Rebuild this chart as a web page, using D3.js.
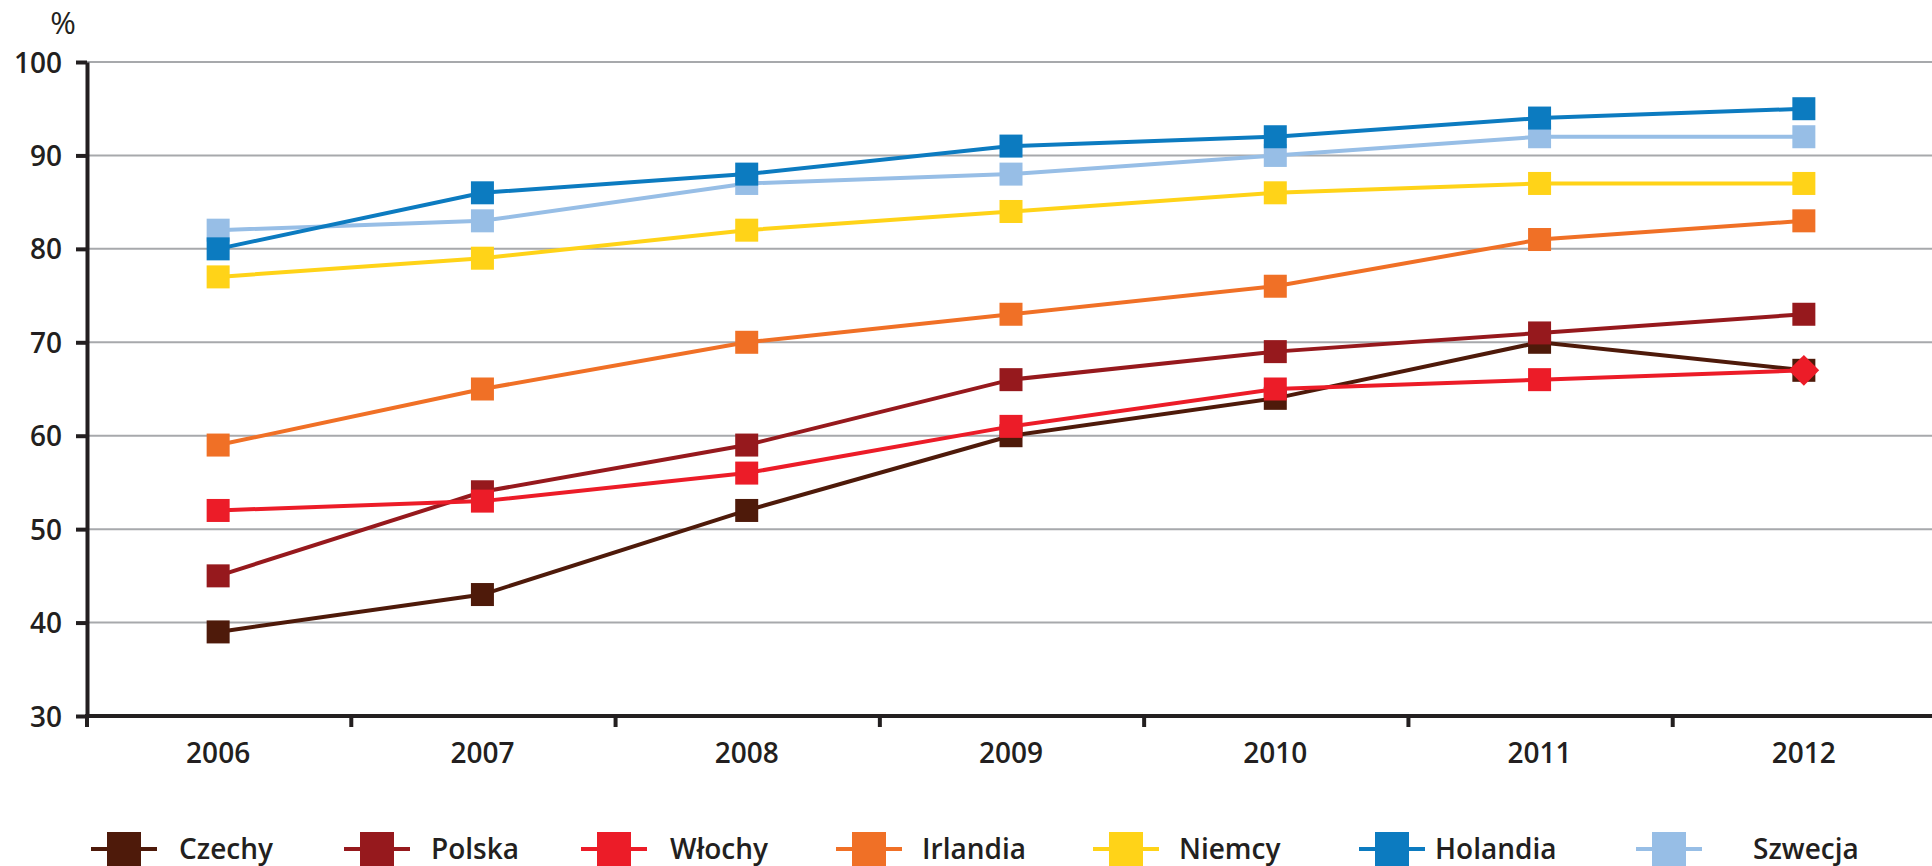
<!DOCTYPE html>
<html>
<head>
<meta charset="utf-8">
<script src="https://cdn.jsdelivr.net/npm/d3@7"></script>
<style>
  body { margin: 0; background: #fff; }
  svg { display: block; }
  text { font-family: "Open Sans", sans-serif; fill: #231f20; }
</style>
</head>
<body>
<div id="chart"></div>
<script>
const years = ["2006", "2007", "2008", "2009", "2010", "2011", "2012"];
const yTicks = [30, 40, 50, 60, 70, 80, 90, 100];

const czechy   = [39, 43, 52, 60, 64, 70, 67];
const polska   = [45, 54, 59, 66, 69, 71, 73];
const wlochy   = [52, 53, 56, 61, 65, 66, 67];
const irlandia = [59, 65, 70, 73, 76, 81, 83];
const niemcy   = [77, 79, 82, 84, 86, 87, 87];
const holandia = [80, 86, 88, 91, 92, 94, 95];
const szwecja  = [82, 83, 87, 88, 90, 92, 92];

const names = ["Czechy", "Polska", "Włochy", "Irlandia", "Niemcy", "Holandia", "Szwecja"];
const values = [czechy, polska, wlochy, irlandia, niemcy, holandia, szwecja];
const colors = ["#4e1a0a", "#96191d", "#ec1c28", "#f07026", "#ffd318", "#0c7bc0", "#97bee6"];
// series drawn in this order (dark blue sits on top of light blue)
const drawOrder = ["Czechy", "Polska", "Włochy", "Irlandia", "Niemcy", "Szwecja", "Holandia"];
// the 2012 Włochy point is a diamond in the original
const diamondPoint = { name: "Włochy", year: "2012" };

const W = 1932, H = 866;
const legendX = [124, 377, 614, 869, 1126, 1392, 1669];
const legendTextX = [179, 431, 670, 922, 1179, 1435, 1753];

const svg = d3.select("#chart").append("svg")
    .attr("width", W)
    .attr("height", H);

const x = d3.scaleBand()
    .domain(years)
    .range([86, 1936])
    .padding(0);
const xc = d => x(d) + x.bandwidth() / 2;

const y = d3.scaleLinear()
    .domain([30, 100])
    .range([716, 62]);

const color = d3.scaleOrdinal().domain(names).range(colors);

// gridlines
svg.append("g")
    .selectAll("line")
    .data(yTicks.filter(t => t > 30))
    .enter().append("line")
    .attr("x1", 86).attr("x2", W)
    .attr("y1", d => y(d)).attr("y2", d => y(d))
    .attr("stroke", "#a7a9ac")
    .attr("stroke-width", 2);

// y axis
const yAxis = svg.append("g")
    .attr("transform", "translate(87,0)")
    .call(d3.axisLeft(y).tickValues(yTicks).tickSize(11).tickSizeOuter(0).tickPadding(14));
yAxis.select(".domain").attr("stroke", "#231f20").attr("stroke-width", 4);
yAxis.selectAll(".tick line").attr("stroke", "#231f20").attr("stroke-width", 4);
yAxis.selectAll(".tick text")
    .attr("fill", "#231f20")
    .style("font-size", "28px")
    .style("font-weight", 600)
    .attr("dy", "0.36em");

svg.append("text")
    .attr("x", 63).attr("y", 34)
    .attr("text-anchor", "middle")
    .style("font-size", "31px")
    .text("%");

// x axis
const xAxis = svg.append("g");
xAxis.append("line")
    .attr("x1", 85).attr("x2", W)
    .attr("y1", y(30)).attr("y2", y(30))
    .attr("stroke", "#231f20")
    .attr("stroke-width", 4);
xAxis.selectAll(".xtick")
    .data(years)
    .enter().append("line")
    .attr("class", "xtick")
    .attr("x1", d => x(d) + 1).attr("x2", d => x(d) + 1)
    .attr("y1", y(30)).attr("y2", y(30) + 11)
    .attr("stroke", "#231f20")
    .attr("stroke-width", 4);
xAxis.selectAll(".xlabel")
    .data(years)
    .enter().append("text")
    .attr("class", "xlabel")
    .attr("x", d => xc(d))
    .attr("y", 763)
    .attr("text-anchor", "middle")
    .style("font-size", "28px")
    .style("font-weight", 600)
    .text(d => d);

// series
const line = d3.line()
    .x(d => xc(d.year))
    .y(d => y(d.value));

const MS = 23;
drawOrder.forEach(name => {
    const vals = values[names.indexOf(name)];
    const pts = years.map((yr, i) => ({ year: yr, value: vals[i] }));
    const g = svg.append("g");
    g.append("path")
        .datum(pts)
        .attr("d", line)
        .attr("fill", "none")
        .attr("stroke", color(name))
        .attr("stroke-width", 4);
    pts.forEach(p => {
        if (name === diamondPoint.name && p.year === diamondPoint.year) {
            g.append("path")
                .attr("d", d3.symbol(d3.symbolDiamond2, 600)())
                .attr("transform", `translate(${xc(p.year)},${y(p.value)})`)
                .attr("fill", color(name));
        } else {
            g.append("rect")
                .attr("x", xc(p.year) - MS / 2)
                .attr("y", y(p.value) - MS / 2)
                .attr("width", MS).attr("height", MS)
                .attr("fill", color(name));
        }
    });
});

// legend
const legend = svg.append("g");
names.forEach((name, i) => {
    const cx = legendX[i], cy = 849;
    legend.append("line")
        .attr("x1", cx - 33).attr("x2", cx + 33)
        .attr("y1", cy).attr("y2", cy)
        .attr("stroke", color(name))
        .attr("stroke-width", 4);
    legend.append("rect")
        .attr("x", cx - 17).attr("y", cy - 17)
        .attr("width", 34).attr("height", 34)
        .attr("fill", color(name));
    legend.append("text")
        .attr("x", legendTextX[i])
        .attr("y", cy + 10)
        .style("font-size", "28px")
        .style("font-weight", 600)
        .text(name);
});
</script>
</body>
</html>
